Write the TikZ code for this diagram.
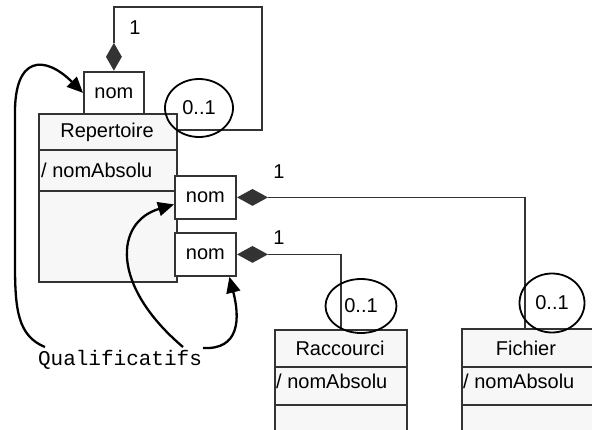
\documentclass[tikz,border=0pt]{standalone}
\usepackage{fontspec}
\setmainfont{Liberation Sans}
\newfontfamily\qmono{Liberation Mono}
\usetikzlibrary{shapes.geometric,arrows.meta,calc}
\definecolor{lineg}{HTML}{333333}
\definecolor{boxfill}{HTML}{F7F7F7}
\begin{document}
\begin{tikzpicture}[x=1pt,y=-1pt,
  font=\fontsize{20}{23}\selectfont,
  classbox/.style={draw=lineg, fill=boxfill, line width=1.8pt, inner sep=0pt, anchor=north west},
  qualbox/.style={draw=lineg, fill=white, line width=1.8pt, inner sep=0pt, anchor=north west, minimum width=61pt, minimum height=43pt},
  divline/.style={draw=lineg, line width=1.8pt},
  diam/.style={diamond, fill=lineg, inner sep=0pt},
  mult/.style={ellipse, draw=black, line width=1.8pt, inner sep=0pt},
  assoc/.style={draw=lineg, line width=1.7pt},
  qarrow/.style={draw=black, line width=2.3pt, -{Triangle[length=16pt,width=14pt]}},
  attr/.style={anchor=west, inner sep=0pt}
]
\useasboundingbox (0,0) rectangle (592,429);
% Repertoire class
\node[classbox, minimum width=138pt, minimum height=168pt] (rep) at (38,113) {};
\draw[divline] ([yshift=-37pt]rep.north west) -- ([yshift=-37pt]rep.north east);
\draw[divline] ([yshift=-78pt]rep.north west) -- ([yshift=-78pt]rep.north east);
\node (reptitle) at (107,132) {Repertoire};
\node[attr] (repattr) at (41,170) {/ nomAbsolu};
% Raccourci class
\node[classbox, minimum width=132pt, minimum height=130pt] (rac) at (274,329) {};
\draw[divline] ([yshift=-38pt]rac.north west) -- ([yshift=-38pt]rac.north east);
\draw[divline] ([yshift=-76pt]rac.north west) -- ([yshift=-76pt]rac.north east);
\node (ractitle) at (340,348) {Raccourci};
\node[attr] (racattr) at (276,381) {/ nomAbsolu};
% Fichier class
\node[classbox, minimum width=132pt, minimum height=130pt] (fich) at (461,328) {};
\draw[divline] ([yshift=-39pt]fich.north west) -- ([yshift=-39pt]fich.north east);
\draw[divline] ([yshift=-77pt]fich.north west) -- ([yshift=-77pt]fich.north east);
\node (fichtitle) at (526,348) {Fichier};
\node[attr] (fichattr) at (463,381) {/ nomAbsolu};
% qualifier boxes
\node[qualbox, minimum width=60pt, minimum height=42pt] (q1) at (83,71) {nom};
\node[qualbox] (q2) at (174,175) {nom};
\node[qualbox] (q3) at (174,232) {nom};
% diamonds
\node[diam, minimum width=16pt, minimum height=28pt, anchor=south] (d1) at (q1.north) {};
\node[diam, minimum width=31pt, minimum height=17pt, anchor=west] (d2) at (q2.east) {};
\node[diam, minimum width=31pt, minimum height=17pt, anchor=west] (d3) at (q3.east) {};
% associations
\coordinate (c1) at (262,7);
\draw[assoc] (d1.north) |- (c1) |- ([yshift=-17pt]rep.north east);
\draw[assoc] (d2.east) -| ([xshift=-3pt]fich.north);
\draw[assoc] (d3.east) -| (rac.north);
% multiplicities
\node (one1) at (135,28) {1};
\node (one2) at (279,172) {1};
\node (one3) at (279,238) {1};
\node[mult, minimum width=68pt, minimum height=58pt] (m1) at (199,108) {0..1};
\node[mult, minimum width=71pt, minimum height=54pt] (m2) at (361,306) {0..1};
\node[mult, minimum width=65pt, minimum height=59pt] (m3) at (552,303) {0..1};
% Qualificatifs
\node[font=\qmono\fontsize{21}{24}\selectfont] (qlab) at (120,360) {Qualificatifs};
\coordinate (a1) at (45,347);
\coordinate (a2) at (183,347);
\coordinate (a3) at (203,348);
\draw[qarrow] (a1) .. controls (18,336) and (15,310) .. (15,265) -- (15,115) .. controls (14,55) and (45,55) .. (q1.west);
\draw[qarrow] (a2) .. controls (110,285) and (115,222) .. ([yshift=-7pt]q2.west);
\draw[qarrow] (a3) .. controls (240,350) and (240,318) .. ([xshift=24pt]q3.south);
\end{tikzpicture}
\end{document}
